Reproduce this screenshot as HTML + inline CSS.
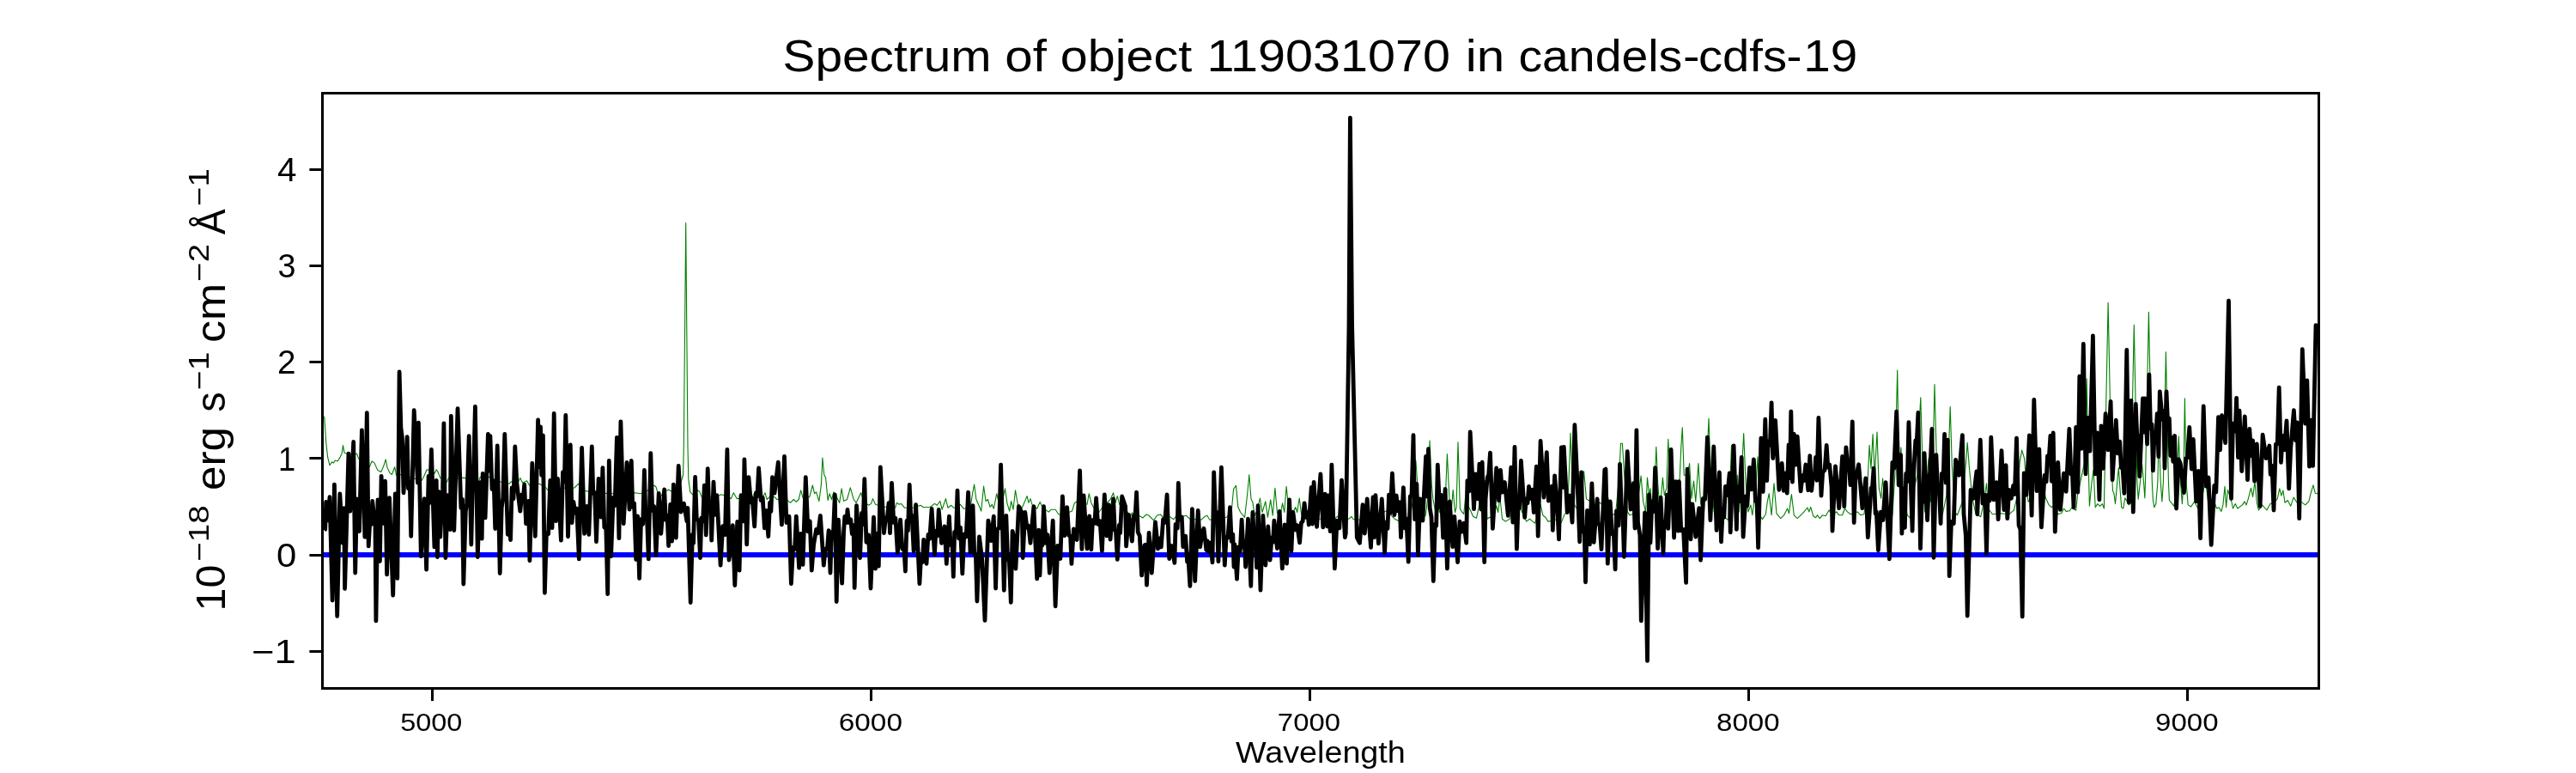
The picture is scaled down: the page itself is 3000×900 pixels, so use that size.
<!DOCTYPE html>
<html><head><meta charset="utf-8"><title>Spectrum</title>
<style>html,body{margin:0;padding:0;background:#fff;width:3000px;height:900px;overflow:hidden}</style></head>
<body>
<svg width="3000" height="900" viewBox="0 0 3000 900" style="display:block;font-family:'Liberation Sans',sans-serif;will-change:transform">
<rect width="3000" height="900" fill="#fff"/>
<defs><clipPath id="c"><rect x="375.0" y="108.3" width="2325.0" height="693.0"/></clipPath></defs>
<g clip-path="url(#c)" fill="none" stroke-linejoin="round" stroke-linecap="butt">
<polyline stroke="#008000" stroke-width="1.1" points="375.2,484.6 377.8,485.5 379.7,514.6 381.6,532.1 384.0,541.8 386.5,537.9 388.4,538.9 390.4,536.0 393.3,537.0 396.2,532.1 398.1,528.2 399.5,518.5 401.1,527.3 404.0,528.2 405.9,529.2 415.6,528.2 417.6,534.1 424.3,539.9 430.2,543.8 433.1,537.0 436.0,538.9 439.9,547.6 443.8,549.6 446.7,542.8 449.2,535.0 451.1,544.7 453.9,550.6 456.4,552.5 459.7,543.8 461.6,553.5 467.0,552.5 474.8,555.4 482.6,557.3 491.3,559.3 494.2,553.5 497.1,546.7 502.0,547.6 505.9,551.5 508.2,546.7 510.1,549.6 512.7,556.4 520.4,561.2 522.4,556.4 529.2,557.3 536.9,556.4 540.8,556.4 548.6,558.3 557.3,561.2 559.2,555.4 564.1,556.4 569.9,555.4 575.7,558.3 583.5,561.2 593.2,563.2 595.2,560.8 599.0,561.6 602.9,562.2 605.8,556.4 608.7,562.2 613.6,559.7 616.5,565.1 622.3,564.1 628.2,563.2 635.9,568.0 638.8,571.9 641.7,565.1 647.6,569.0 655.3,568.0 661.1,568.6 668.9,568.0 673.8,563.2 677.6,569.0 682.5,571.9 690.3,572.5 698.0,573.8 705.8,574.4 713.6,574.8 725.2,574.4 738.8,573.8 746.6,574.8 754.3,570.9 762.1,565.1 764.0,567.0 767.9,580.6 772.8,572.9 778.6,570.0 781.5,571.9 789.3,570.9 793.1,561.2 795.6,553.0 796.3,520.0 798.7,259.6 801.0,520.0 801.8,558.0 803.8,572.9 806.7,575.8 812.5,570.9 814.5,571.9 818.4,581.6 826.1,579.1 835.8,577.7 839.7,575.8 843.6,576.8 851.4,580.6 854.3,573.8 858.2,580.6 865.0,579.7 870.0,580.6 875.8,579.6 878.7,573.8 881.6,579.6 888.4,578.6 891.0,573.8 893.3,581.5 897.2,577.6 902.0,578.6 904.9,581.5 914.6,580.6 920.5,585.4 924.3,581.5 927.3,584.4 930.2,581.5 932.7,570.8 935.0,579.6 942.8,578.6 946.3,565.0 948.6,574.7 950.6,572.8 953.9,583.5 956.4,564.1 957.9,533.0 959.7,552.4 961.6,556.3 964.1,582.5 966.1,574.7 968.6,581.5 970.9,572.8 974.8,579.6 977.7,585.4 980.1,568.9 982.6,583.5 986.5,581.5 990.3,567.9 994.2,581.5 997.1,585.4 1002.6,573.8 1005.9,583.5 1011.7,588.3 1014.6,586.4 1016.5,580.6 1019.5,587.3 1025.3,589.3 1031.1,590.3 1038.9,589.3 1042.7,591.2 1044.3,585.4 1047.0,587.3 1049.5,586.4 1053.4,591.2 1064.1,591.2 1071.9,588.3 1075.7,590.8 1083.5,590.3 1088.4,586.4 1091.3,588.3 1094.8,583.5 1097.1,593.2 1101.4,580.6 1103.9,591.2 1107.8,588.3 1110.7,591.2 1115.5,590.3 1118.4,587.3 1122.3,592.2 1130.1,591.2 1132.4,575.7 1134.6,564.1 1136.9,581.5 1140.8,590.3 1142.7,595.1 1145.6,566.0 1148.0,583.5 1150.5,581.5 1153.0,590.3 1155.3,587.3 1157.3,592.2 1160.8,574.7 1163.1,585.4 1167.9,581.5 1170.5,568.9 1172.8,585.4 1175.7,595.1 1177.6,583.5 1180.0,593.2 1182.5,570.8 1185.4,587.3 1190.3,591.2 1196.1,577.6 1198.0,585.4 1200.0,580.6 1202.3,588.3 1207.7,592.2 1211.2,584.4 1214.5,591.2 1221.3,596.1 1224.2,593.2 1229.1,593.2 1233.0,599.0 1238.8,599.0 1248.5,595.1 1251.4,585.4 1255.3,583.5 1266.0,587.3 1268.3,574.7 1270.8,585.4 1275.7,595.1 1279.5,597.0 1283.4,591.2 1293.1,581.5 1296.6,573.8 1299.0,585.4 1301.3,577.6 1303.8,587.3 1312.5,595.1 1316.4,600.9 1318.4,597.0 1324.2,599.0 1331.0,602.9 1334.9,599.0 1337.8,600.0 1343.6,605.8 1347.5,600.0 1351.4,599.0 1355.2,602.9 1361.1,600.9 1366.9,604.8 1370.0,600.3 1377.8,601.3 1381.6,600.3 1385.5,604.2 1399.1,605.2 1403.0,601.3 1405.9,600.3 1408.8,605.2 1428.2,602.3 1434.1,596.5 1436.6,569.3 1439.5,565.4 1441.8,590.6 1444.7,596.5 1449.6,602.3 1452.5,577.0 1454.8,552.8 1457.0,580.9 1458.9,584.8 1461.2,600.3 1464.1,594.5 1467.4,580.0 1470.0,596.5 1473.8,583.8 1476.4,602.3 1479.7,581.9 1482.2,600.3 1484.9,568.3 1487.4,596.5 1490.3,604.2 1493.6,585.8 1495.8,596.5 1498.1,566.4 1500.4,588.7 1505.9,596.5 1508.8,590.6 1510.7,596.5 1513.2,580.0 1515.6,598.4 1519.5,604.2 1525.3,603.3 1528.2,596.5 1530.1,590.6 1533.0,604.2 1554.4,604.2 1557.3,601.3 1564.1,603.3 1570.9,604.2 1573.8,601.3 1575.7,604.2 1581.6,605.2 1593.2,604.2 1606.8,604.2 1612.6,595.5 1616.5,594.5 1620.4,600.3 1624.3,604.2 1628.2,606.2 1641.7,604.2 1646.6,577.0 1648.9,536.3 1651.4,573.2 1655.3,603.3 1660.2,600.3 1663.1,577.0 1665.0,513.0 1667.4,565.4 1668.9,580.9 1671.8,596.5 1674.7,590.6 1676.7,596.5 1679.0,579.0 1682.5,600.3 1685.4,528.5 1688.3,588.7 1690.3,594.5 1692.2,570.3 1694.5,596.5 1696.1,590.6 1698.0,514.9 1700.4,592.6 1702.9,596.5 1704.8,598.4 1707.3,571.2 1709.7,588.7 1712.6,594.5 1715.5,601.3 1719.4,603.3 1722.3,590.6 1724.2,580.9 1727.1,604.2 1729.5,559.6 1732.0,604.2 1734.9,602.3 1738.8,604.2 1742.7,588.7 1744.6,596.5 1746.9,579.0 1749.5,604.2 1753.3,607.1 1758.2,604.2 1761.1,594.5 1764.0,596.5 1769.8,588.7 1772.8,596.5 1777.6,607.1 1781.5,604.2 1787.3,609.1 1791.2,600.3 1794.1,587.7 1797.0,600.3 1799.9,602.3 1802.8,607.1 1808.7,606.2 1814.5,604.2 1818.4,608.1 1822.3,598.4 1825.2,596.5 1827.1,557.6 1829.0,504.3 1831.6,573.2 1833.9,588.7 1839.7,596.5 1842.6,573.2 1844.6,548.9 1847.5,580.9 1850.4,582.9 1852.3,580.9 1855.2,592.6 1859.1,594.5 1863.0,584.8 1866.9,588.7 1870.0,568.7 1877.8,599.8 1881.6,597.8 1885.5,557.0 1887.5,516.3 1889.4,516.3 1891.7,553.2 1895.2,595.9 1898.1,599.8 1901.1,598.8 1904.0,601.7 1907.8,580.3 1911.1,554.1 1913.7,584.2 1916.6,595.9 1918.5,556.1 1920.5,576.5 1922.0,568.7 1924.3,595.9 1927.3,560.9 1928.8,520.2 1930.6,560.9 1933.1,595.9 1936.4,556.1 1938.3,576.5 1940.8,568.7 1942.8,511.4 1944.7,553.2 1947.6,584.2 1951.5,597.8 1955.4,576.5 1957.7,522.1 1959.3,497.8 1961.2,553.2 1965.1,553.2 1967.6,539.6 1970.0,580.3 1972.5,560.0 1974.8,584.2 1977.9,539.6 1980.6,586.2 1984.5,595.9 1987.4,547.3 1990.0,487.2 1992.3,553.2 1996.2,595.9 2005.9,599.8 2012.7,605.6 2015.2,553.2 2016.5,518.2 2019.1,568.7 2021.4,584.2 2023.3,553.2 2025.3,595.9 2028.2,553.2 2030.7,504.6 2033.0,560.9 2036.0,595.9 2038.9,588.1 2040.8,599.8 2044.7,568.7 2047.0,531.8 2049.5,599.8 2052.5,604.6 2056.3,598.8 2058.3,584.2 2060.2,574.5 2063.1,599.8 2066.0,562.9 2069.0,597.8 2073.8,603.6 2077.7,599.8 2081.6,592.0 2083.5,597.8 2086.4,575.5 2089.3,599.8 2093.2,603.6 2097.1,599.8 2101.0,595.9 2104.9,591.0 2106.8,595.9 2108.7,590.4 2111.7,600.7 2114.6,602.7 2116.5,599.8 2119.4,603.6 2122.3,599.8 2126.2,600.7 2130.1,593.9 2134.0,599.8 2138.8,595.9 2141.7,599.8 2145.6,599.8 2148.5,592.0 2151.4,595.9 2155.3,598.8 2163.1,595.9 2167.0,599.8 2170.9,598.8 2174.7,568.7 2177.1,518.2 2179.0,545.4 2181.1,505.6 2183.3,553.2 2186.0,503.1 2188.3,568.7 2190.7,580.3 2192.6,557.0 2195.1,584.2 2200.0,595.9 2203.9,599.8 2206.8,553.2 2209.7,431.1 2211.6,553.2 2213.9,521.1 2216.5,576.5 2221.3,599.8 2225.2,603.6 2229.1,568.7 2233.0,553.2 2234.9,498.8 2236.8,462.9 2238.8,533.8 2241.7,595.9 2243.6,568.7 2246.0,533.8 2248.5,584.2 2251.4,518.2 2253.0,447.6 2255.3,533.8 2258.2,584.2 2262.1,599.8 2266.9,576.5 2269.5,522.1 2271.2,473.6 2273.3,541.5 2276.6,595.9 2279.5,599.8 2285.4,584.2 2289.3,541.5 2291.2,515.3 2293.5,545.4 2297.0,580.3 2300.9,597.8 2306.7,601.7 2310.6,584.2 2313.5,562.9 2315.5,592.0 2320.3,598.8 2330.0,597.8 2339.7,598.8 2345.5,593.9 2349.4,576.5 2352.3,537.6 2354.7,524.1 2357.6,533.8 2360.1,568.7 2362.0,583.9 2363.0,584.2 2365.9,568.7 2366.8,560.8 2373.6,533.6 2375.6,547.2 2379.0,560.8 2382.4,579.8 2385.8,587.3 2389.2,590.7 2391.2,589.3 2396.7,598.8 2400.8,597.4 2403.5,592.0 2406.2,595.4 2410.3,594.7 2413.0,590.7 2415.7,593.4 2417.7,594.0 2419.4,577.1 2428.6,533.6 2430.2,441.1 2432.0,533.6 2433.4,589.3 2436.1,560.8 2438.1,547.2 2440.2,590.7 2442.9,586.6 2445.6,589.3 2448.3,586.6 2450.4,592.0 2451.6,528.2 2455.1,352.2 2458.6,528.2 2460.5,571.6 2461.9,574.3 2463.5,586.6 2467.3,544.5 2469.4,574.3 2470.7,590.7 2472.8,592.0 2474.8,579.8 2479.6,587.9 2480.9,582.5 2481.6,560.8 2485.3,378.3 2488.9,560.8 2490.2,581.1 2492.5,560.8 2494.5,540.4 2496.5,560.8 2497.8,579.8 2498.5,560.8 2502.4,363.3 2506.3,560.8 2507.3,581.1 2508.8,590.7 2510.8,586.6 2512.9,560.8 2514.2,501.0 2516.2,560.8 2517.9,583.9 2519.4,560.8 2522.4,409.7 2525.4,560.8 2526.4,582.5 2529.8,586.6 2531.9,589.3 2535.3,560.8 2537.3,508.0 2539.3,560.8 2541.4,586.6 2542.9,560.8 2544.4,463.8 2546.0,560.8 2548.2,587.9 2551.6,590.0 2555.7,583.9 2559.7,592.0 2563.8,583.9 2567.9,560.8 2569.2,564.8 2572.0,586.6 2577.4,579.8 2581.5,592.0 2584.2,590.7 2586.9,595.4 2588.9,587.9 2591.0,566.2 2592.6,590.7 2594.4,570.3 2598.5,582.5 2600.5,592.0 2603.2,586.6 2605.9,592.0 2611.4,587.9 2614.1,583.9 2616.1,587.9 2618.2,581.1 2621.5,568.2 2623.6,578.4 2626.0,560.8 2628.3,585.2 2630.4,594.0 2634.5,587.9 2639.9,594.0 2644.0,586.6 2648.0,585.2 2652.1,581.1 2654.8,568.9 2656.9,577.1 2658.9,571.0 2661.0,585.2 2664.3,582.5 2667.7,589.3 2671.1,579.1 2675.2,585.2 2679.3,583.9 2684.7,587.9 2688.8,583.9 2691.5,573.0 2694.0,564.8 2696.3,574.3 2699.9,575.0"/>
<line x1="375" y1="646" x2="2700" y2="646" stroke="#0000ff" stroke-width="6"/>
<polyline stroke="#000" stroke-width="4.8" points="377.8,617.5 378.7,616.5 379.7,584.5 381.8,605.8 384.0,578.7 387.1,699.0 389.4,564.1 392.7,717.4 395.8,574.8 399.1,632.0 400.6,591.7 401.6,685.4 405.9,528.1 407.8,595.2 411.7,514.5 413.7,667.0 415.6,580.9 417.6,617.5 418.5,618.4 421.4,500.9 424.9,625.2 427.3,480.6 429.2,635.9 430.8,607.0 432.4,610.5 433.7,583.5 437.0,612.6 437.9,722.9 440.0,581.9 442.4,653.4 444.1,554.4 446.5,609.4 448.6,560.2 450.6,668.9 453.5,579.6 457.7,693.2 460.3,574.8 462.8,673.4 465.1,433.0 466.9,498.1 468.4,509.6 470.0,573.8 474.2,508.7 475.5,568.8 477.2,561.0 478.7,624.3 482.2,477.6 486.5,562.2 487.4,492.2 490.3,647.6 494.2,580.6 496.6,663.1 499.1,554.4 500.5,585.2 502.4,523.3 505.9,636.9 508.2,559.3 509.4,648.5 510.8,572.4 512.7,625.2 515.6,569.9 516.9,492.8 518.9,649.5 521.4,576.7 524.3,616.5 525.3,484.4 528.8,617.5 533.0,475.7 536.9,591.3 538.5,581.3 539.8,680.0 542.3,595.4 543.7,586.2 546.2,507.7 548.8,634.0 550.5,558.6 551.6,547.1 553.4,473.4 556.3,648.5 559.1,561.7 561.2,627.2 562.2,551.5 565.1,602.9 568.4,505.4 569.7,548.1 570.9,507.7 573.0,569.5 575.1,560.0 576.7,615.5 579.2,519.0 582.2,667.5 584.2,591.2 585.8,579.6 587.8,505.4 591.3,622.3 592.7,601.5 594.6,628.5 596.1,568.0 598.0,580.8 599.8,520.0 601.9,563.1 605.8,595.2 607.8,576.0 609.0,583.7 610.7,564.1 612.6,609.7 615.5,583.5 616.9,652.8 619.8,539.4 623.3,624.3 626.6,488.9 627.9,543.6 629.5,497.0 630.7,553.3 632.4,506.8 634.4,690.3 636.4,620.5 638.6,621.7 640.8,559.3 643.0,614.6 645.2,481.5 647.4,606.7 649.5,557.3 653.4,629.1 655.5,549.7 657.4,560.8 658.8,483.5 661.5,624.8 664.3,518.0 666.1,608.6 667.9,584.5 669.9,597.1 671.8,592.3 674.3,650.9 677.6,521.3 680.6,621.4 683.5,589.3 685.8,622.3 689.3,520.0 690.8,574.7 692.6,573.5 694.5,630.7 697.1,557.3 700.0,602.0 701.9,544.6 703.8,614.0 705.8,615.3 707.7,691.6 709.3,536.5 711.6,647.6 714.2,579.4 716.1,588.7 718.4,509.3 720.9,626.6 722.9,490.8 726.2,609.7 730.1,538.4 733.0,593.2 735.3,536.5 736.7,590.4 738.6,586.0 740.7,651.4 742.6,600.9 744.6,673.4 746.6,604.3 748.7,610.2 750.4,547.5 751.8,595.2 753.3,597.5 755.3,650.9 757.8,527.7 759.7,594.4 761.6,589.6 764.0,646.0 767.2,574.5 769.8,621.4 773.7,569.9 775.3,605.3 777.1,600.2 778.6,635.5 780.7,587.3 782.5,630.1 784.4,564.1 787.3,626.2 790.2,542.3 793.1,596.1 796.4,586.1 799.9,606.8 800.9,591.3 804.2,701.5 806.4,622.4 807.6,632.4 809.6,555.4 811.3,604.2 813.5,606.1 815.5,649.5 816.8,603.1 818.6,606.8 820.3,565.1 822.3,622.9 824.2,545.6 825.7,591.3 827.4,584.3 828.7,629.1 831.0,561.2 832.8,599.3 834.9,576.7 839.1,658.2 841.7,612.6 844.4,622.6 846.9,523.3 849.0,652.0 853.3,611.7 855.8,681.5 858.7,607.5 861.1,664.1 863.0,576.7 865.9,606.8 866.9,534.9 869.7,633.9 871.9,555.6 874.4,584.8 876.1,580.0 878.7,612.9 880.5,573.7 881.9,577.3 883.6,544.9 886.2,582.5 888.2,579.4 890.4,614.8 892.3,594.4 894.8,624.5 896.6,585.2 897.9,595.5 899.5,555.6 902.0,574.1 906.3,538.1 910.4,610.9 913.5,531.4 915.9,608.5 919.0,601.2 921.4,679.6 923.6,637.3 925.6,639.3 927.3,601.2 930.6,661.1 932.5,621.4 935.0,657.3 938.3,555.6 941.0,618.8 943.2,606.9 945.3,664.1 947.6,634.2 950.6,616.4 952.7,620.7 955.4,600.3 959.3,658.2 961.2,639.2 963.4,639.1 965.1,617.7 967.0,667.0 968.4,619.6 970.2,627.1 972.3,576.0 974.2,700.5 976.4,605.1 980.6,679.2 982.6,618.7 983.8,601.5 985.8,608.4 987.0,593.5 988.5,608.4 990.7,604.8 992.3,621.6 994.0,611.6 995.2,684.4 997.5,588.6 1001.6,649.5 1003.5,597.5 1005.1,610.7 1006.8,557.6 1008.9,631.3 1011.6,622.9 1014.0,685.0 1017.5,602.2 1019.5,662.1 1021.7,621.1 1023.3,659.2 1025.3,544.0 1029.5,620.6 1031.5,602.7 1033.2,605.4 1035.0,585.7 1036.5,620.6 1038.5,562.4 1040.8,608.4 1042.9,603.2 1045.3,643.7 1048.6,605.1 1050.8,639.0 1052.7,635.9 1054.4,665.0 1056.0,606.5 1057.4,617.9 1059.2,564.3 1060.9,605.1 1062.1,600.3 1064.1,641.7 1066.6,587.6 1070.9,679.6 1072.5,649.8 1074.4,654.5 1075.7,628.4 1079.0,656.3 1081.0,622.5 1082.7,627.4 1085.1,592.5 1088.4,645.6 1089.9,618.1 1091.9,623.7 1093.2,593.5 1096.5,632.3 1100.0,612.9 1102.3,656.3 1105.4,601.2 1107.0,634.6 1109.0,632.0 1110.3,671.4 1111.7,619.3 1113.5,619.6 1115.0,571.1 1116.6,626.9 1118.5,614.0 1120.8,667.9 1122.8,622.0 1125.2,624.9 1127.6,573.1 1130.0,643.0 1133.0,588.6 1134.7,644.7 1136.4,647.3 1137.9,700.0 1140.5,624.9 1143.7,651.4 1147.0,722.3 1150.9,606.1 1154.2,629.7 1157.3,601.2 1159.6,685.0 1161.4,616.0 1163.6,614.8 1165.6,541.1 1169.3,687.3 1171.8,600.3 1173.6,651.5 1175.2,648.2 1177.3,701.3 1179.1,618.4 1181.5,628.4 1182.9,662.1 1186.4,589.6 1190.3,597.3 1191.2,649.5 1193.8,596.4 1195.9,614.2 1197.9,612.3 1200.0,632.3 1203.9,589.6 1207.7,673.8 1209.7,617.1 1211.0,669.9 1212.6,624.4 1213.8,635.1 1215.5,589.6 1218.0,632.3 1219.9,622.6 1222.3,667.0 1226.2,606.1 1229.1,705.8 1231.8,635.4 1234.9,650.5 1237.4,577.9 1239.8,623.7 1242.7,590.6 1244.8,623.4 1246.6,624.3 1247.9,656.3 1250.4,615.8 1254.2,628.5 1257.6,547.8 1259.9,639.4 1262.1,577.0 1266.0,638.8 1266.9,610.9 1268.7,600.9 1270.8,639.8 1272.5,605.6 1274.9,609.2 1276.6,579.9 1278.6,610.3 1281.1,606.8 1283.4,641.7 1286.3,576.0 1288.9,623.8 1291.2,587.6 1293.1,628.1 1296.6,580.8 1298.3,616.9 1299.5,618.9 1301.3,651.4 1303.4,611.4 1304.6,620.7 1306.7,577.9 1310.6,589.6 1311.6,635.9 1314.5,599.3 1318.4,630.1 1320.3,600.3 1322.0,602.9 1323.6,573.1 1325.3,619.8 1327.3,624.1 1329.6,669.9 1332.9,634.9 1333.9,634.2 1335.5,681.1 1338.1,620.4 1341.3,667.0 1345.5,608.0 1348.5,638.8 1350.2,626.9 1352.3,636.9 1354.6,604.7 1356.6,608.3 1359.1,576.0 1361.7,650.5 1364.6,635.5 1367.9,655.3 1369.1,610.5 1371.2,615.0 1372.3,562.5 1373.8,605.2 1376.3,602.0 1377.8,636.7 1380.7,624.1 1382.6,654.2 1384.1,653.1 1385.9,682.3 1388.4,592.6 1391.7,676.5 1395.2,594.5 1397.7,636.8 1400.1,619.2 1402.0,615.3 1404.9,640.6 1406.2,629.8 1408.4,643.1 1409.8,631.8 1412.0,654.8 1413.7,549.9 1415.4,599.9 1417.1,596.3 1418.9,653.6 1422.4,544.1 1426.3,658.0 1428.1,625.4 1430.0,625.9 1432.5,590.6 1434.2,630.3 1435.8,622.0 1437.0,660.0 1437.9,633.8 1440.5,674.1 1442.3,637.0 1444.2,642.1 1446.1,605.2 1447.8,637.1 1449.4,633.0 1450.6,660.0 1453.5,604.2 1456.8,682.3 1458.9,596.5 1460.7,632.1 1461.9,624.7 1463.6,660.9 1465.1,588.7 1468.0,687.1 1470.9,600.3 1473.8,658.0 1476.8,613.0 1479.1,652.2 1481.0,625.9 1482.5,631.3 1483.9,606.2 1487.4,638.6 1490.2,595.5 1493.3,661.9 1496.2,611.0 1498.5,656.1 1501.6,581.9 1503.9,641.5 1505.9,596.5 1508.4,616.9 1510.7,611.6 1513.6,631.8 1515.4,608.7 1517.1,607.0 1519.1,585.8 1520.9,602.2 1522.9,596.5 1524.3,610.9 1527.2,567.3 1528.5,610.1 1530.1,561.5 1533.6,613.4 1537.9,551.8 1540.8,613.8 1543.3,575.1 1545.7,612.8 1547.0,577.0 1549.2,618.5 1550.9,541.1 1554.4,661.9 1557.0,606.1 1559.9,614.9 1562.5,559.2 1566.4,625.6 1567.3,621.0 1571.0,379.0 1572.4,137.1 1574.6,379.0 1580.3,626.0 1583.5,632.2 1587.0,587.7 1589.3,621.1 1592.2,580.9 1596.5,637.3 1599.0,579.0 1600.3,625.6 1601.9,576.7 1605.4,632.8 1609.3,580.9 1612.6,643.5 1614.2,608.0 1616.0,615.5 1617.5,576.1 1619.2,597.3 1621.4,551.2 1623.9,599.6 1626.2,577.0 1628.0,594.8 1630.1,584.8 1631.5,625.6 1634.4,567.7 1636.5,615.1 1637.9,603.8 1640.2,654.1 1642.3,577.8 1644.0,576.9 1646.0,506.6 1647.6,604.6 1649.9,563.5 1651.4,646.4 1653.8,580.9 1656.9,606.2 1660.6,531.4 1661.9,578.0 1663.5,522.7 1665.2,591.6 1667.0,602.1 1669.3,676.5 1671.3,610.3 1672.7,612.3 1674.3,541.1 1676.5,590.5 1678.6,576.4 1680.6,626.0 1683.1,569.3 1685.4,661.9 1688.3,583.8 1691.8,636.7 1693.8,601.3 1697.6,654.5 1700.0,607.1 1702.3,619.1 1704.8,609.1 1707.7,632.2 1708.9,559.6 1710.9,572.0 1712.2,502.9 1716.5,592.6 1718.4,551.8 1721.3,580.9 1722.9,540.2 1724.8,593.0 1726.2,538.2 1728.7,654.5 1730.1,580.9 1732.2,555.9 1733.7,552.9 1735.5,527.2 1738.4,615.3 1742.7,545.0 1745.6,582.9 1747.5,547.5 1749.5,573.2 1752.4,561.5 1756.3,600.3 1759.8,544.1 1761.9,608.1 1764.0,520.4 1766.4,639.2 1768.0,589.7 1769.4,591.5 1771.4,536.3 1775.7,602.3 1777.2,580.8 1779.0,585.8 1780.5,566.4 1782.3,580.3 1784.4,570.3 1786.3,596.5 1789.3,543.1 1791.2,624.1 1794.1,513.4 1798.0,579.0 1801.3,526.6 1803.4,583.2 1805.8,577.0 1807.3,566.2 1808.3,617.3 1810.6,553.8 1813.5,588.7 1815.5,627.9 1818.4,520.8 1819.7,567.3 1821.3,520.4 1825.2,596.5 1828.1,577.0 1831.0,608.1 1833.9,494.6 1837.8,580.9 1839.7,630.8 1841.7,549.9 1843.3,619.2 1845.1,614.5 1846.5,677.8 1848.5,594.5 1851.4,633.8 1853.9,562.8 1856.2,631.4 1860.1,580.9 1861.3,610.1 1863.0,610.8 1865.0,639.6 1868.8,547.0 1870.0,546.1 1872.3,656.1 1875.2,583.9 1877.4,621.7 1879.4,622.7 1881.1,662.9 1882.5,595.0 1885.0,611.9 1886.5,540.3 1888.4,590.9 1889.7,592.8 1891.4,648.3 1895.2,525.7 1899.1,593.0 1902.4,562.6 1904.0,615.0 1905.9,500.9 1907.5,608.0 1909.9,623.2 1911.3,722.8 1915.6,596.9 1918.5,769.4 1920.5,575.9 1922.0,631.8 1923.9,583.9 1926.0,595.5 1927.6,544.7 1930.6,638.6 1934.1,579.1 1937.0,644.4 1938.1,607.9 1939.9,612.9 1941.4,576.2 1942.8,615.3 1946.1,523.4 1949.6,626.0 1951.5,560.6 1954.4,618.2 1955.4,560.6 1957.8,617.8 1960.5,616.5 1963.6,678.4 1965.1,546.1 1969.0,627.9 1970.9,586.8 1974.8,625.0 1978.7,591.7 1980.6,652.2 1983.4,580.3 1985.6,581.3 1988.4,509.2 1991.9,605.6 1995.8,519.9 1999.1,617.3 2002.4,550.0 2004.5,630.8 2006.1,596.5 2007.8,602.3 2009.4,566.5 2011.7,576.5 2014.2,550.9 2015.2,619.8 2019.1,518.9 2022.4,616.3 2023.3,566.5 2025.5,583.9 2028.2,532.5 2030.1,625.0 2033.0,577.9 2034.8,588.9 2037.5,544.5 2039.8,569.8 2042.4,534.8 2044.4,583.5 2046.0,580.3 2047.6,637.6 2050.9,510.2 2053.2,572.5 2055.8,488.2 2057.7,559.7 2059.3,513.8 2061.4,518.4 2063.1,468.8 2064.7,533.5 2067.6,489.4 2071.9,570.3 2075.2,539.3 2077.3,571.3 2079.6,550.9 2081.2,574.2 2083.1,517.9 2084.5,556.6 2085.8,479.1 2087.4,561.2 2089.3,505.3 2091.3,541.2 2093.2,508.2 2097.1,571.9 2099.1,553.7 2100.7,559.8 2102.9,540.8 2105.8,570.7 2107.8,530.6 2109.7,571.3 2111.7,552.3 2113.3,554.8 2114.6,532.5 2116.0,559.3 2117.9,486.3 2121.0,577.1 2122.7,549.8 2125.1,547.3 2127.2,518.3 2128.8,544.2 2130.7,541.1 2133.0,566.5 2134.0,618.2 2137.5,542.8 2141.7,591.7 2145.6,531.5 2147.8,589.7 2149.9,520.8 2151.7,541.4 2153.4,541.4 2154.9,564.5 2157.3,490.8 2159.2,608.5 2160.8,558.7 2164.6,540.8 2168.9,591.7 2172.8,556.8 2175.3,625.6 2177.6,591.7 2179.1,568.1 2180.5,567.7 2182.1,545.1 2184.1,597.9 2185.3,595.8 2187.4,640.6 2190.4,596.2 2192.9,605.5 2196.1,561.6 2200.4,650.8 2203.9,538.3 2205.8,545.1 2208.7,479.1 2211.2,564.8 2213.6,529.6 2214.9,621.1 2216.9,569.2 2218.4,614.3 2219.7,551.5 2221.3,560.6 2222.9,491.7 2227.1,618.2 2228.7,550.9 2230.8,512.8 2232.2,515.7 2233.9,480.5 2236.5,638.6 2238.3,577.2 2239.5,584.6 2241.1,527.6 2244.6,605.6 2246.7,555.6 2247.8,549.3 2249.9,499.5 2252.0,649.3 2254.9,529.6 2256.6,572.0 2258.2,565.9 2260.1,609.5 2261.3,551.5 2263.2,556.0 2264.6,505.3 2266.2,562.1 2268.3,512.1 2270.2,670.6 2272.5,607.4 2275.3,609.5 2277.6,535.4 2281.5,553.2 2285.4,506.7 2287.0,598.3 2289.4,624.1 2291.2,717.0 2295.1,570.3 2298.3,580.3 2301.9,549.0 2302.8,598.8 2306.3,512.1 2309.0,586.2 2311.6,576.2 2313.5,644.4 2315.0,576.4 2317.1,583.0 2318.8,509.2 2321.9,581.9 2325.2,561.6 2327.1,604.6 2331.0,524.7 2333.9,593.6 2336.1,541.6 2337.8,603.7 2339.7,570.3 2342.3,580.3 2344.6,565.5 2346.3,575.5 2348.5,510.2 2351.1,611.7 2352.9,616.5 2355.2,717.9 2357.2,550.9 2360.0,576.2 2363.4,506.8 2366.1,600.2 2368.8,465.3 2372.0,571.6 2374.8,522.8 2377.4,613.8 2381.1,553.3 2383.1,560.8 2384.5,530.9 2386.2,534.1 2387.9,507.4 2389.3,560.3 2391.2,504.0 2393.3,619.2 2396.7,538.3 2399.4,593.4 2403.5,551.2 2406.2,572.3 2409.9,499.3 2411.9,552.0 2413.2,545.8 2415.0,590.7 2417.7,497.3 2419.8,573.0 2421.8,438.2 2423.9,522.4 2426.3,400.5 2429.0,551.9 2431.3,486.4 2434.0,525.1 2437.4,391.0 2440.2,551.9 2442.5,504.0 2444.9,581.8 2447.0,495.9 2449.4,545.3 2452.1,481.6 2455.1,523.8 2458.1,467.4 2460.1,558.7 2464.3,489.1 2466.3,527.8 2468.7,514.2 2470.3,544.6 2472.0,543.7 2473.9,574.3 2476.8,407.5 2479.3,585.2 2481.9,466.4 2484.3,596.1 2487.3,470.5 2488.9,511.2 2490.3,507.5 2491.8,554.6 2495.5,464.0 2496.8,503.1 2497.9,464.0 2500.6,517.0 2502.9,436.1 2504.5,499.2 2506.1,494.0 2507.4,547.9 2508.8,510.1 2510.6,512.2 2512.2,481.6 2513.9,531.6 2515.3,455.8 2518.3,488.4 2519.8,478.4 2521.0,545.1 2523.0,455.8 2524.7,495.3 2526.3,487.1 2527.8,530.5 2529.2,509.5 2530.8,537.3 2532.6,507.4 2534.6,592.0 2537.2,534.7 2539.3,539.7 2543.4,573.7 2545.8,533.3 2547.3,533.2 2549.8,497.3 2552.3,546.0 2554.3,511.5 2557.7,583.9 2560.4,548.5 2562.6,626.6 2566.2,472.8 2569.1,566.0 2572.0,556.0 2575.2,634.3 2578.8,565.5 2580.8,573.0 2583.5,485.7 2585.5,523.8 2587.6,483.7 2591.7,515.6 2595.5,350.2 2598.5,580.5 2600.5,493.2 2603.2,502.0 2604.6,463.3 2606.5,532.6 2608.0,478.2 2610.7,548.5 2614.3,485.0 2617.5,558.7 2619.8,499.3 2621.8,530.7 2623.6,512.9 2625.6,560.1 2628.3,517.0 2632.1,589.3 2635.1,506.1 2639.1,533.7 2642.9,519.0 2644.2,552.4 2646.0,542.4 2648.0,594.0 2650.4,517.2 2652.2,516.9 2654.2,451.1 2656.5,538.4 2658.2,507.4 2660.3,523.8 2663.0,489.8 2665.7,568.9 2667.7,522.4 2671.4,477.6 2673.5,512.8 2675.2,491.8 2677.7,603.6 2681.3,406.6 2684.7,493.2 2686.8,442.9 2689.5,543.1 2691.5,489.1 2693.6,542.4 2697.0,378.7 2700.0,385.0"/>
</g>
<rect x="375.5" y="108.5" width="2325" height="693" fill="none" stroke="#000" stroke-width="3"/>
<line x1="503.5" y1="801.5" x2="503.5" y2="816.1" stroke="#000" stroke-width="3"/>
<line x1="1014.5" y1="801.5" x2="1014.5" y2="816.1" stroke="#000" stroke-width="3"/>
<line x1="1525.5" y1="801.5" x2="1525.5" y2="816.1" stroke="#000" stroke-width="3"/>
<line x1="2036.5" y1="801.5" x2="2036.5" y2="816.1" stroke="#000" stroke-width="3"/>
<line x1="2547.5" y1="801.5" x2="2547.5" y2="816.1" stroke="#000" stroke-width="3"/>
<line x1="360.4" y1="197.5" x2="375.5" y2="197.5" stroke="#000" stroke-width="3"/>
<line x1="360.4" y1="309.5" x2="375.5" y2="309.5" stroke="#000" stroke-width="3"/>
<line x1="360.4" y1="421.5" x2="375.5" y2="421.5" stroke="#000" stroke-width="3"/>
<line x1="360.4" y1="533.5" x2="375.5" y2="533.5" stroke="#000" stroke-width="3"/>
<line x1="360.4" y1="646.5" x2="375.5" y2="646.5" stroke="#000" stroke-width="3"/>
<line x1="360.4" y1="758.5" x2="375.5" y2="758.5" stroke="#000" stroke-width="3"/>
<text x="911.60" y="83.0" font-size="51.5" textLength="242.90" lengthAdjust="spacingAndGlyphs">Spectrum</text>
<text x="1170.20" y="83.0" font-size="51.5" textLength="48.67" lengthAdjust="spacingAndGlyphs">of</text>
<text x="1234.80" y="83.0" font-size="51.5" textLength="153.44" lengthAdjust="spacingAndGlyphs">object</text>
<text x="1405.40" y="83.0" font-size="51.5" textLength="283.60" lengthAdjust="spacingAndGlyphs">119031070</text>
<text x="1706.80" y="83.0" font-size="51.5" textLength="45.43" lengthAdjust="spacingAndGlyphs">in</text>
<text x="1768.40" y="83.0" font-size="51.5" textLength="190.84" lengthAdjust="spacingAndGlyphs">candels</text>
<text x="1960.00" y="83.0" font-size="51.5" textLength="19.56" lengthAdjust="spacingAndGlyphs">-</text>
<text x="1978.00" y="83.0" font-size="51.5" textLength="103.08" lengthAdjust="spacingAndGlyphs">cdfs</text>
<text x="2080.40" y="83.0" font-size="51.5" textLength="17.96" lengthAdjust="spacingAndGlyphs">-</text>
<text x="2100.20" y="83.0" font-size="51.5" textLength="62.94" lengthAdjust="spacingAndGlyphs">19</text>
<text x="466.15" y="851.3" font-size="28.8" textLength="72.04" lengthAdjust="spacingAndGlyphs">5000</text>
<text x="976.82" y="851.3" font-size="28.8" textLength="74.11" lengthAdjust="spacingAndGlyphs">6000</text>
<text x="1487.89" y="851.3" font-size="28.8" textLength="73.07" lengthAdjust="spacingAndGlyphs">7000</text>
<text x="1999.10" y="851.3" font-size="28.8" textLength="73.49" lengthAdjust="spacingAndGlyphs">8000</text>
<text x="2510.10" y="851.3" font-size="28.8" textLength="73.49" lengthAdjust="spacingAndGlyphs">9000</text>
<text x="323.00" y="211.1" font-size="38.0" textLength="22.49" lengthAdjust="spacingAndGlyphs">4</text>
<text x="323.60" y="323.2" font-size="38.0" textLength="20.97" lengthAdjust="spacingAndGlyphs">3</text>
<text x="323.00" y="435.4" font-size="38.0" textLength="21.55" lengthAdjust="spacingAndGlyphs">2</text>
<text x="324.00" y="547.6" font-size="38.0" textLength="20.16" lengthAdjust="spacingAndGlyphs">1</text>
<text x="322.00" y="659.7" font-size="38.0" textLength="23.25" lengthAdjust="spacingAndGlyphs">0</text>
<text x="293.00" y="771.9" font-size="38.0" textLength="51.69" lengthAdjust="spacingAndGlyphs">−1</text>
<text x="1439.00" y="888.0" font-size="34.8" textLength="197.81" lengthAdjust="spacingAndGlyphs">Wavelength</text>
<text transform="translate(261.70,711.40) rotate(-90)" font-size="48.2" textLength="53.83" lengthAdjust="spacingAndGlyphs">10</text>
<text transform="translate(243.20,653.60) rotate(-90)" font-size="32.3" textLength="65.19" lengthAdjust="spacingAndGlyphs">−18</text>
<text transform="translate(261.70,571.10) rotate(-90)" font-size="48.2" textLength="74.07" lengthAdjust="spacingAndGlyphs">erg</text>
<text transform="translate(261.70,479.80) rotate(-90)" font-size="48.2" textLength="23.33" lengthAdjust="spacingAndGlyphs">s</text>
<text transform="translate(243.20,454.00) rotate(-90)" font-size="32.3" textLength="44.47" lengthAdjust="spacingAndGlyphs">−1</text>
<text transform="translate(261.70,398.90) rotate(-90)" font-size="48.2" textLength="69.24" lengthAdjust="spacingAndGlyphs">cm</text>
<text transform="translate(243.20,327.70) rotate(-90)" font-size="32.3" textLength="43.61" lengthAdjust="spacingAndGlyphs">−2</text>
<text transform="translate(261.70,273.10) rotate(-90)" font-size="48.2" textLength="29.58" lengthAdjust="spacingAndGlyphs">Å</text>
<text transform="translate(243.20,239.80) rotate(-90)" font-size="32.3" textLength="43.62" lengthAdjust="spacingAndGlyphs">−1</text>
</svg>
</body></html>
